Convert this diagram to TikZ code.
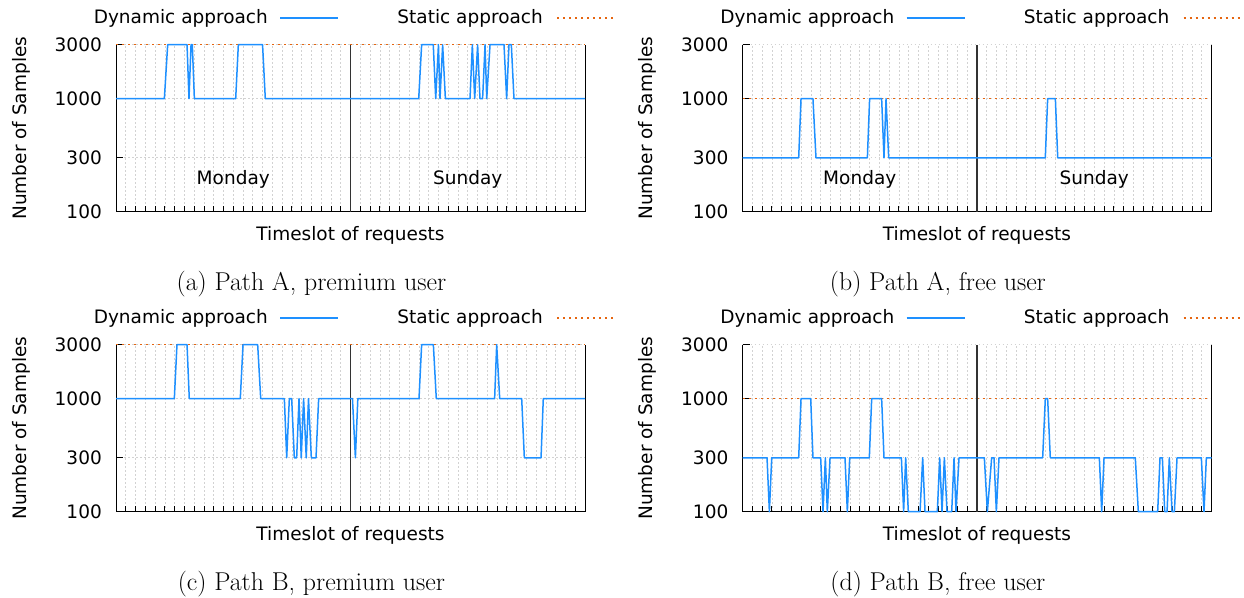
\documentclass[tikz,border=0pt]{standalone}
\usepackage{fontspec}
\newfontfamily\plotfont{DejaVu Sans}
\definecolor{dynblue}{HTML}{1E90FF}
\definecolor{statorange}{HTML}{E6650F}
\definecolor{gridgray}{HTML}{D2D2D2}

% one panel: #1 x, #2 y (lower left of the axes), #3 tag, #4 static level,
% #5 caption, #6 dynamic samples, #7 extra labels
\newcommand{\samplepanel}[7]{%
\begin{scope}[xshift=#1, yshift=#2, x=9.771pt, y=113.06pt]
  \foreach \h in {1,...,47} {
    \draw[gridline] (\h,0) -- (\h,1.4771);
    \draw[tickline] (\h,0) -- ++(0,6pt);
  }
  \foreach \lv in {0.4771,1,1.4771} \draw[gridline] (0,\lv) -- (48,\lv);
  \foreach \lv/\lab in {0/100,0.4771/300,1/1000,1.4771/3000} {
    \draw[tickline] (0,\lv) -- ++(7pt,0);
    \node[ticklabel] (tick#3\lab) at (0,\lv) {\lab};
  }
  \draw[staticline] (0,#4) -- (48,#4);
  \draw[axisline] (0,1.4771) -- (0,0) -- (48,0) -- (48,1.4771);
  \draw[divider] (24,0) -- (24,1.4771);
  \draw[dynline] plot coordinates {#6};
  \node[plotlabel, rotate=90] (ylab#3) at (-9.72,0.7385) {Number of Samples};
  \node[plotlabel] (xlab#3) at (24,-0.206) {Timeslot of requests};
  \node[subcap] (cap#3) at (20,-0.636) {#5};
  % legend
  \node[plotlabel, anchor=east] (dynleg#3) at (15.56,1.713) {Dynamic approach};
  \draw[dynline] ([xshift=12pt]dynleg#3.east) -- ++(58pt,0);
  \node[plotlabel, anchor=east] (statleg#3) at (43.7,1.713) {Static approach};
  \draw[staticline] ([xshift=14pt]statleg#3.east) -- ++(58pt,0);
  #7
\end{scope}}

\begin{document}
\begin{tikzpicture}[
  x=1pt, y=1pt,
  gridline/.style={draw=gridgray, line width=0.6pt, dash pattern=on 1.5pt off 2.5pt},
  tickline/.style={draw=black, line width=0.8pt},
  axisline/.style={draw=black, line width=1pt},
  divider/.style={draw=black!80, line width=1.2pt},
  dynline/.style={draw=dynblue, line width=1.5pt, line join=round},
  staticline/.style={draw=statorange, line width=1.2pt, dash pattern=on 2pt off 4pt},
  plotlabel/.style={font=\plotfont\fontsize{18.5}{22}\selectfont, inner sep=0pt},
  ticklabel/.style={plotlabel, anchor=east, xshift=-14pt},
  subcap/.style={font=\fontsize{25.8}{30}\selectfont, inner sep=0pt}
]
\useasboundingbox (0,0) rectangle (1244,597);

% (a) Path A, premium user
\samplepanel{116pt}{385.3pt}{A}{1.4771}{(a) Path A, premium user}
{(0,1) (4.95,1) (5.29,1.477) (7.27,1.477) (7.47,1) (7.68,1.477) (7.81,1.477) (8.02,1)
 (12.25,1) (12.52,1.477) (15.0,1.477) (15.28,1) (30.98,1) (31.28,1.477) (32.47,1.477)
 (32.72,1) (33.0,1.477) (33.16,1) (33.43,1.477) (33.71,1) (36.23,1) (36.47,1.477)
 (36.71,1) (37.01,1.477) (37.25,1) (37.52,1) (37.77,1.477) (37.94,1) (38.28,1.477)
 (39.71,1.477) (39.98,1) (40.22,1.477) (40.46,1.477) (40.73,1) (48,1)}
{\node[plotlabel] (mondayA) at (12,0.289) {Monday};
 \node[plotlabel] (sundayA) at (36,0.289) {Sunday};}

% (b) Path A, free user
\samplepanel{742.5pt}{385.3pt}{B}{1}{(b) Path A, free user}
{(0,0.477) (5.75,0.477) (5.99,1) (7.21,1) (7.52,0.477) (12.78,0.477) (13.01,1)
 (14.24,1) (14.48,0.477) (14.69,1) (14.96,0.477) (30.99,0.477) (31.23,1) (32.02,1)
 (32.26,0.477) (48,0.477)}
{\node[plotlabel] (mondayB) at (12,0.289) {Monday};
 \node[plotlabel] (sundayB) at (36,0.289) {Sunday};}

% (c) Path B, premium user
\samplepanel{116pt}{85.3pt}{C}{1.4771}{(c) Path B, premium user}
{(0,1) (5.97,1) (6.24,1.477) (7.27,1.477) (7.5,1) (12.72,1) (13.0,1.477) (14.5,1.477)
 (14.81,1) (17.23,1) (17.47,0.477) (17.74,1) (17.98,1) (18.25,0.477) (18.49,0.477)
 (18.73,1) (18.96,0.477) (19.2,1) (19.47,0.477) (19.7,1) (19.99,0.477) (20.47,0.477)
 (20.74,1) (24.2,1) (24.5,0.477) (24.75,1) (31.01,1) (31.28,1.477) (32.48,1.477)
 (32.78,1) (38.75,1) (38.96,1.477) (39.27,1) (41.52,1) (41.79,0.477) (43.5,0.477)
 (43.73,1) (48,1)}
{}

% (d) Path B, free user
\samplepanel{742.5pt}{85.3pt}{D}{1}{(d) Path B, free user}
{(0,0.477) (2.51,0.477) (2.75,0) (2.99,0.477) (5.75,0.477) (5.99,1) (6.98,1)
 (7.21,0.477) (8.0,0.477) (8.24,0) (8.48,0.477) (8.68,0) (8.96,0.477) (10.49,0.477)
 (10.73,0) (10.97,0.477) (12.98,0.477) (13.22,1) (14.24,1) (14.48,0.477) (16.26,0.477)
 (16.49,0) (16.7,0.477) (16.97,0) (18.17,0) (18.44,0.477) (18.68,0) (19.94,0)
 (20.18,0.477) (20.42,0) (20.66,0.477) (20.93,0) (21.41,0) (21.65,0.477) (21.85,0)
 (22.16,0.477) (24.75,0.477) (25.06,0) (25.5,0.477) (25.74,0.477) (25.98,0)
 (26.25,0.477) (30.72,0.477) (30.99,1) (31.23,1) (31.5,0.477) (36.52,0.477) (36.76,0)
 (37.0,0.477) (40.2,0.477) (40.51,0) (42.49,0) (42.73,0.477) (42.97,0.477) (43.21,0)
 (43.45,0) (43.68,0.477) (43.96,0) (44.2,0) (44.47,0.477) (46.96,0.477) (47.23,0)
 (47.47,0.477) (48,0.477)}
{}
\end{tikzpicture}
\end{document}
